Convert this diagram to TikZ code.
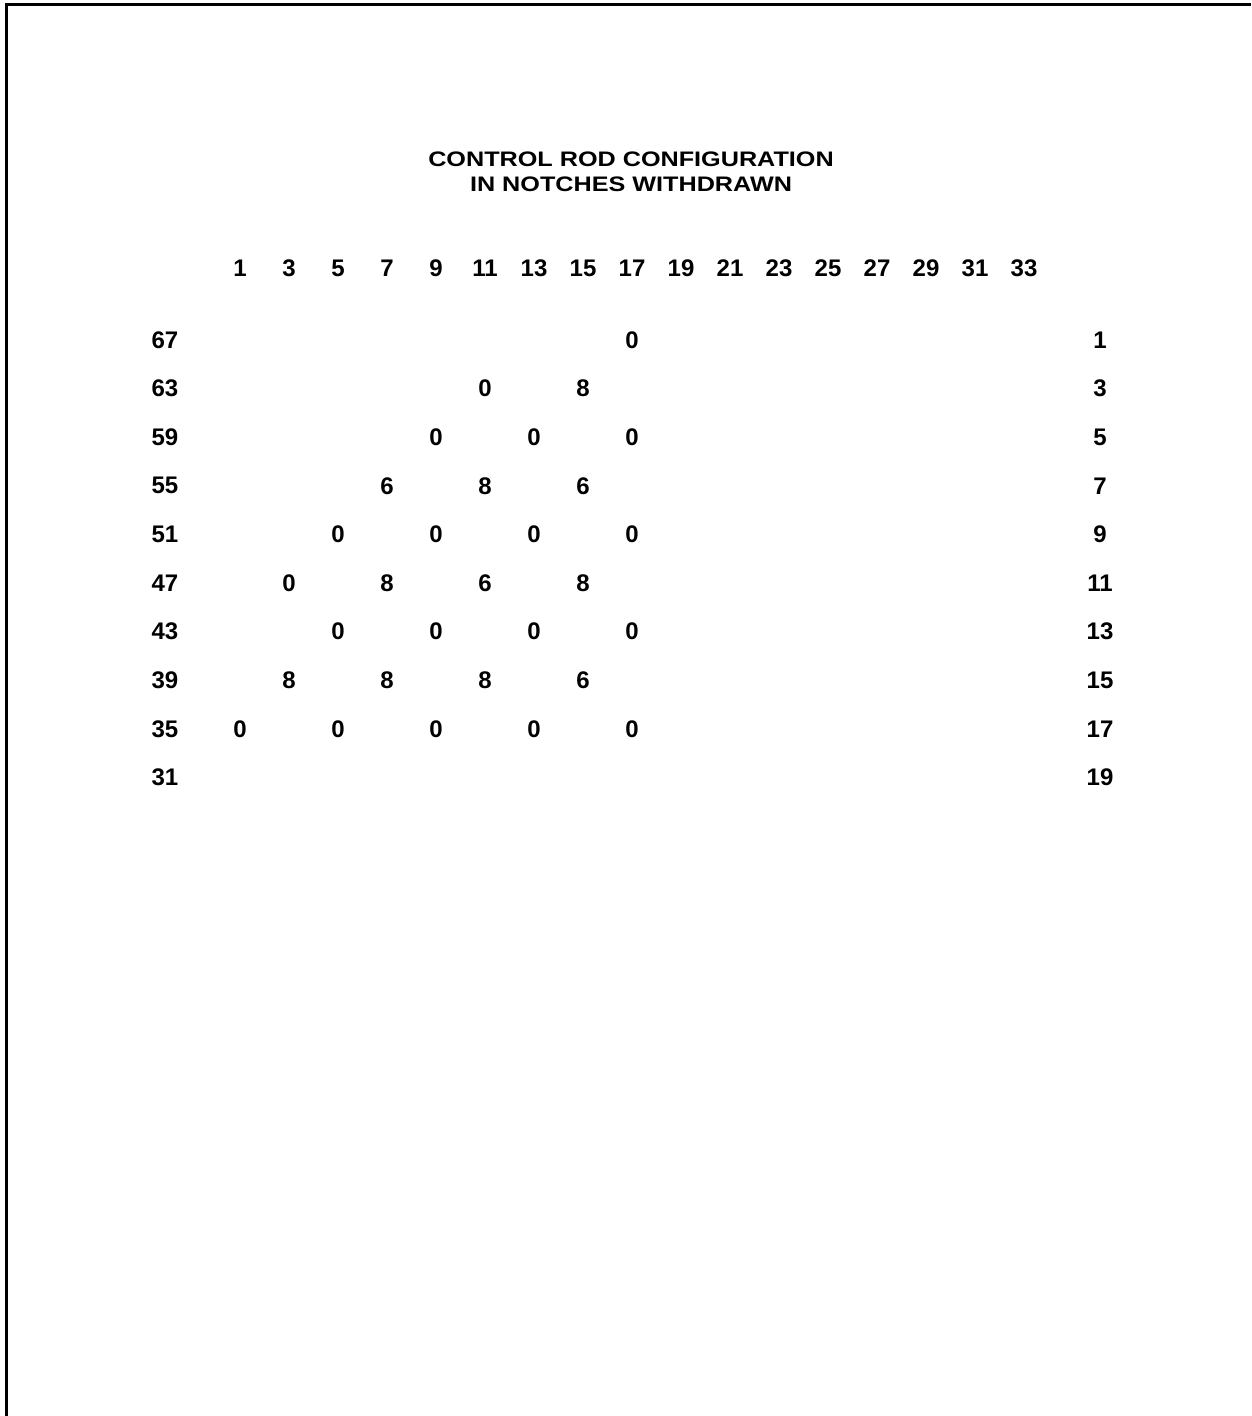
\documentclass[tikz,border=0pt]{standalone}
\usepackage{fontspec}
\setmainfont{Liberation Sans}
\newfontfamily\titlefont[FakeStretch=1.2]{Liberation Sans}
\usetikzlibrary{positioning}

\begin{document}
\begin{tikzpicture}[x=0.5pt, y=-0.5pt, inner sep=0pt,
    num/.style={font=\fontsize{12}{12}\selectfont\bfseries},
    val/.style={num}]
    \useasboundingbox (0,0) rectangle (1251,1416);
    % page frame (left and top edges only)
    \draw[line width=1.3pt] (6.5,1416) -- (6.5,4.5) -- (1251,4.5);

    \node[font=\titlefont\fontsize{10.5}{12.5}\selectfont\bfseries, align=center] (title) at (631,172) {CONTROL ROD CONFIGURATION\\IN NOTCHES WITHDRAWN};

    % column numbers
    \foreach \c [count=\i from 0] in {1,3,...,33}
        \node[num] (c\c) at ({240+49*\i},268) {\c};

    % row numbers, left and right
    \foreach \r/\n [count=\i from 0] in {67/1,63/3,59/5,55/7,51/9,47/11,43/13,39/15,35/17,31/19} {
        \node[num] (r\r) at (165,{340+48.6*\i}) {\r};
        \node[num] (n\n) at (1100,{340+48.6*\i}) {\n};
    }

    % notch positions
    \foreach \c/\r/\v in {17/67/0, 11/63/0, 15/63/8,
        9/59/0, 13/59/0, 17/59/0,
        7/55/6, 11/55/8, 15/55/6,
        5/51/0, 9/51/0, 13/51/0, 17/51/0,
        3/47/0, 7/47/8, 11/47/6, 15/47/8,
        5/43/0, 9/43/0, 13/43/0, 17/43/0,
        3/39/8, 7/39/8, 11/39/8, 15/39/6,
        1/35/0, 5/35/0, 9/35/0, 13/35/0, 17/35/0}
        \node[val] (v\c-\r) at (c\c |- r\r) {\v};
\end{tikzpicture}
\end{document}
